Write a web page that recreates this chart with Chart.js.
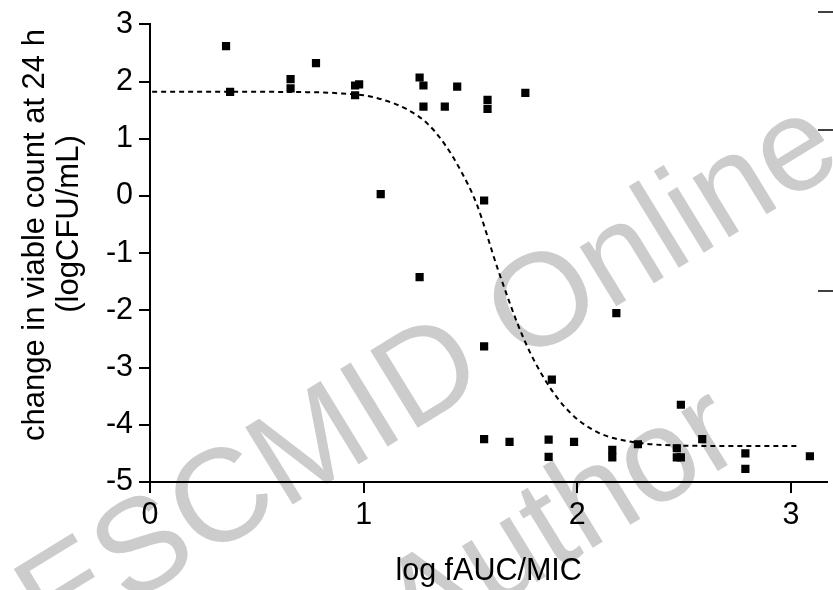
<!DOCTYPE html>
<html>
<head>
<meta charset="utf-8">
<script src="https://cdn.jsdelivr.net/npm/chart.js@4"></script>
<style>
  body { margin: 0; background: #fff; }
</style>
</head>
<body>
<canvas id="myChart" width="833" height="590"></canvas>
<script>
// measured points: log fAUC/MIC vs change in viable count (logCFU/mL)
const logAUC = [0.356, 0.375, 0.658, 0.658, 0.777, 0.96, 0.979, 0.96, 1.08,
    1.262, 1.28, 1.28, 1.38, 1.438, 1.58, 1.58, 1.757, 1.564, 1.262, 1.564,
    2.183, 1.881, 1.564, 1.683, 1.866, 1.866, 1.985, 2.164, 2.164, 2.284,
    2.466, 2.466, 2.485, 2.485, 2.585, 2.787, 2.787, 3.089];
const viableChange = [2.62, 1.82, 2.04, 1.88, 2.32, 1.93, 1.95, 1.76, 0.03,
    2.07, 1.93, 1.56, 1.56, 1.91, 1.68, 1.52, 1.80, -0.08, -1.42, -2.63,
    -2.05, -3.21, -4.25, -4.30, -4.26, -4.56, -4.30, -4.44, -4.57, -4.34,
    -4.41, -4.57, -4.57, -3.65, -4.25, -4.50, -4.77, -4.55];

// dashed fitted curve
const fitX = [0.01, 0.4, 0.8, 0.9, 1.0, 1.1, 1.2, 1.3, 1.38, 1.455, 1.53,
    1.63, 1.75, 1.86, 1.97, 2.1, 2.26, 2.45, 2.7, 3.04];
const fitY = [1.82, 1.82, 1.81, 1.79, 1.76, 1.67, 1.52, 1.26, 0.90, 0.44,
    -0.15, -1.30, -2.50, -3.28, -3.80, -4.14, -4.30, -4.36, -4.37, -4.37];

const xTicks = [0, 1, 2, 3];
const yTitle = ['change in viable count at 24 h', '(logCFU/mL)'];
const xTitle = 'log fAUC/MIC';

const points = logAUC.map((v, i) => ({x: v, y: viableChange[i]}));
const fitLine = fitX.map((v, i) => ({x: v, y: fitY[i]}));

const FONT = "'Liberation Sans', Arial, sans-serif";

const drawMark = (c, text, x, y) => {
    c.save();
    c.fillStyle = '#cccccc';
    c.font = '132px ' + FONT;
    c.textBaseline = 'alphabetic';
    c.textAlign = 'left';
    c.translate(x, y);
    c.rotate(-31.5 * Math.PI / 180);
    c.fillText(text, 0, 0);
    c.restore();
};

const drawVert = (c, text, x, y) => {
    c.save();
    c.fillStyle = '#000';
    c.font = '31px ' + FONT;
    c.textAlign = 'center';
    c.textBaseline = 'middle';
    c.translate(x, y);
    c.rotate(-Math.PI / 2);
    c.fillText(text, 0, 0);
    c.restore();
};

const extras = {
    id: 'extras',
    beforeDraw(chart) {
        drawMark(chart.ctx, 'ESCMID Online', 52, 652);
        drawMark(chart.ctx, 'Author', 416, 656);
    },
    afterDraw(chart) {
        const c = chart.ctx;
        drawVert(c, yTitle[0], 35, 235);
        drawVert(c, yTitle[1], 69, 224);
        // bits of the neighbouring panel's axis at the right edge
        c.save();
        c.strokeStyle = '#000';
        c.lineWidth = 1.5;
        [12, 130, 291].forEach(yy => {
            c.beginPath();
            c.moveTo(818, yy);
            c.lineTo(833, yy);
            c.stroke();
        });
        c.restore();
    }
};

const ctx = document.getElementById('myChart').getContext('2d');
const myChart = new Chart(ctx, {
    data: {
        datasets: [{
            type: 'scatter',
            data: points,
            pointStyle: 'rect',
            pointRadius: 5.8,
            pointBackgroundColor: '#000',
            pointBorderWidth: 0
        }, {
            type: 'line',
            data: fitLine,
            borderColor: '#000',
            borderWidth: 2,
            borderDash: [5, 4],
            pointRadius: 0,
            cubicInterpolationMode: 'monotone',
            fill: false
        }]
    },
    options: {
        responsive: false,
        animation: false,
        layout: {padding: {top: 22, right: 0, left: 0, bottom: 0}},
        plugins: {
            legend: {display: false},
            tooltip: {enabled: false}
        },
        scales: {
            x: {
                type: 'linear',
                min: 0,
                max: 3.17,
                afterFit: (s) => { s.height = 108; },
                afterBuildTicks: (s) => { s.ticks = xTicks.map(v => ({value: v})); },
                ticks: {
                    font: {family: FONT, size: 30.5},
                    color: '#000',
                    padding: 4
                },
                grid: {
                    drawOnChartArea: false,
                    drawTicks: true,
                    tickLength: 11,
                    color: '#000',
                    lineWidth: 2
                },
                border: {color: '#000', width: 2},
                title: {
                    display: true,
                    text: xTitle,
                    font: {family: FONT, size: 30.5, lineHeight: 1},
                    color: '#000',
                    padding: {top: 0, bottom: 3}
                }
            },
            y: {
                type: 'linear',
                min: -5,
                max: 3,
                afterFit: (s) => { s.width = 150; },
                ticks: {
                    stepSize: 1,
                    font: {family: FONT, size: 30.5},
                    color: '#000',
                    padding: 6
                },
                grid: {
                    drawOnChartArea: false,
                    drawTicks: true,
                    tickLength: 11,
                    color: '#000',
                    lineWidth: 2
                },
                border: {color: '#000', width: 2}
            }
        }
    },
    plugins: [extras]
});
</script>
</body>
</html>
